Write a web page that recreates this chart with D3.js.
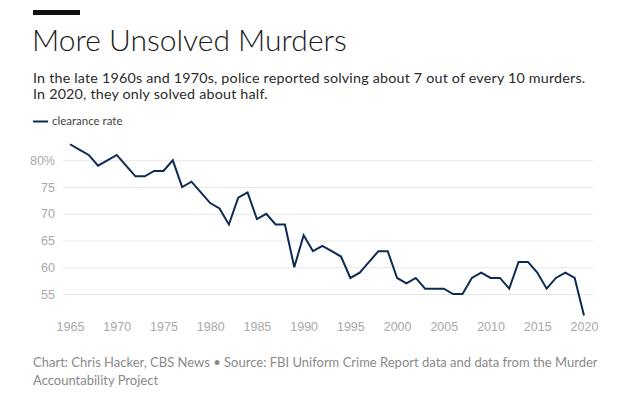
<!DOCTYPE html>
<html>
<head>
  <meta charset="utf-8">
  <title>More Unsolved Murders</title>
  <style>
    body { margin: 0; background: #fff; }
    svg { font-family: Lato, "Open Sans", sans-serif; }
    .grid line { stroke: #e6e6e6; stroke-width: 1px; }
    .grid .domain { display: none; }
    .axis text { fill: #a8a8a8; font-size: 12.5px; }
    .axis .domain, .axis line { display: none; }
  </style>
</head>
<body>
  <svg width="640" height="396"></svg>
  <script src="https://d3js.org/d3.v7.min.js"></script>
  <script>
    // clearance rate by year
    const years = d3.range(1965, 2021);
    const rates = [83, 82, 81, 79, 80, 81, 79, 77, 77, 78,
                   78, 80, 75, 76, 74, 72, 71, 68, 73, 74,
                   69, 70, 68, 68, 60, 66, 63, 64, 63, 62,
                   58, 59, 61, 63, 63, 58, 57, 58, 56, 56,
                   56, 55, 55, 58, 59, 58, 58, 56, 61, 61,
                   59, 56, 58, 59, 58, 51];
    const yTicks = [55, 60, 65, 70, 75, 80];
    const xTicks = d3.range(1965, 2021, 5);

    const data = years.map((y, i) => ({year: y, rate: rates[i]}));

    const svg = d3.select("svg");

    // Set up scales
    const x = d3.scaleLinear().domain([1965, 2020]).range([70, 584]);
    const y = d3.scaleLinear().domain([55, 80]).range([294, 160.3]);

    // header
    svg.append("rect")
        .attr("x", 33).attr("y", 10)
        .attr("width", 47).attr("height", 5)
        .attr("fill", "#111");

    svg.append("text")
        .attr("x", 32).attr("y", 51)
        .attr("fill", "#1a1a1a")
        .attr("font-size", 30)
        .attr("font-weight", 300)
        .text("More Unsolved Murders");

    const subLines = [
      "In the late 1960s and 1970s, police reported solving about 7 out of every 10 murders.",
      "In 2020, they only solved about half."
    ];
    svg.append("g").selectAll("text")
        .data(subLines)
        .join("text")
        .attr("x", 33)
        .attr("y", (d, i) => 82.5 + i * 16)
        .attr("fill", "#2a2a2a")
        .attr("font-size", 14.3)
        .attr("letter-spacing", 0.2)
        .text(d => d);

    // legend
    svg.append("line")
        .attr("x1", 33).attr("x2", 48)
        .attr("y1", 121.5).attr("y2", 121.5)
        .attr("stroke", "#0c2a52").attr("stroke-width", 2);
    svg.append("text")
        .attr("x", 52).attr("y", 125)
        .attr("fill", "#444")
        .attr("font-size", 11.5)
        .text("clearance rate");

    // gridlines
    svg.append("g")
        .attr("class", "grid")
        .attr("transform", "translate(593,0)")
        .call(d3.axisLeft(y).tickValues(yTicks).tickSize(530).tickFormat(""));

    // y labels
    svg.append("g")
        .attr("class", "axis")
        .attr("transform", "translate(55,0)")
        .call(d3.axisLeft(y).tickValues(yTicks).tickSize(0).tickPadding(0)
          .tickFormat(d => d === 80 ? d + "%" : d));

    // x labels
    svg.append("g")
        .attr("class", "axis")
        .attr("transform", "translate(0,318)")
        .call(d3.axisBottom(x).tickValues(xTicks).tickSize(0).tickPadding(4)
          .tickFormat(d3.format("d")));

    // line
    const line = d3.line()
        .x(d => x(d.year))
        .y(d => y(d.rate));

    svg.append("path")
        .datum(data)
        .attr("fill", "none")
        .attr("stroke", "#0c2a52")
        .attr("stroke-width", 2)
        .attr("stroke-linejoin", "miter")
        .attr("d", line);

    // footer
    const footLines = [
      "Chart: Chris Hacker, CBS News \u2022 Source: FBI Uniform Crime Report data and data from the Murder",
      "Accountability Project"
    ];
    svg.append("g").selectAll("text")
        .data(footLines)
        .join("text")
        .attr("x", 33)
        .attr("y", (d, i) => 367 + i * 18)
        .attr("fill", "#8a8a8a")
        .attr("font-size", 13)
        .text(d => d);
  </script>
</body>
</html>
